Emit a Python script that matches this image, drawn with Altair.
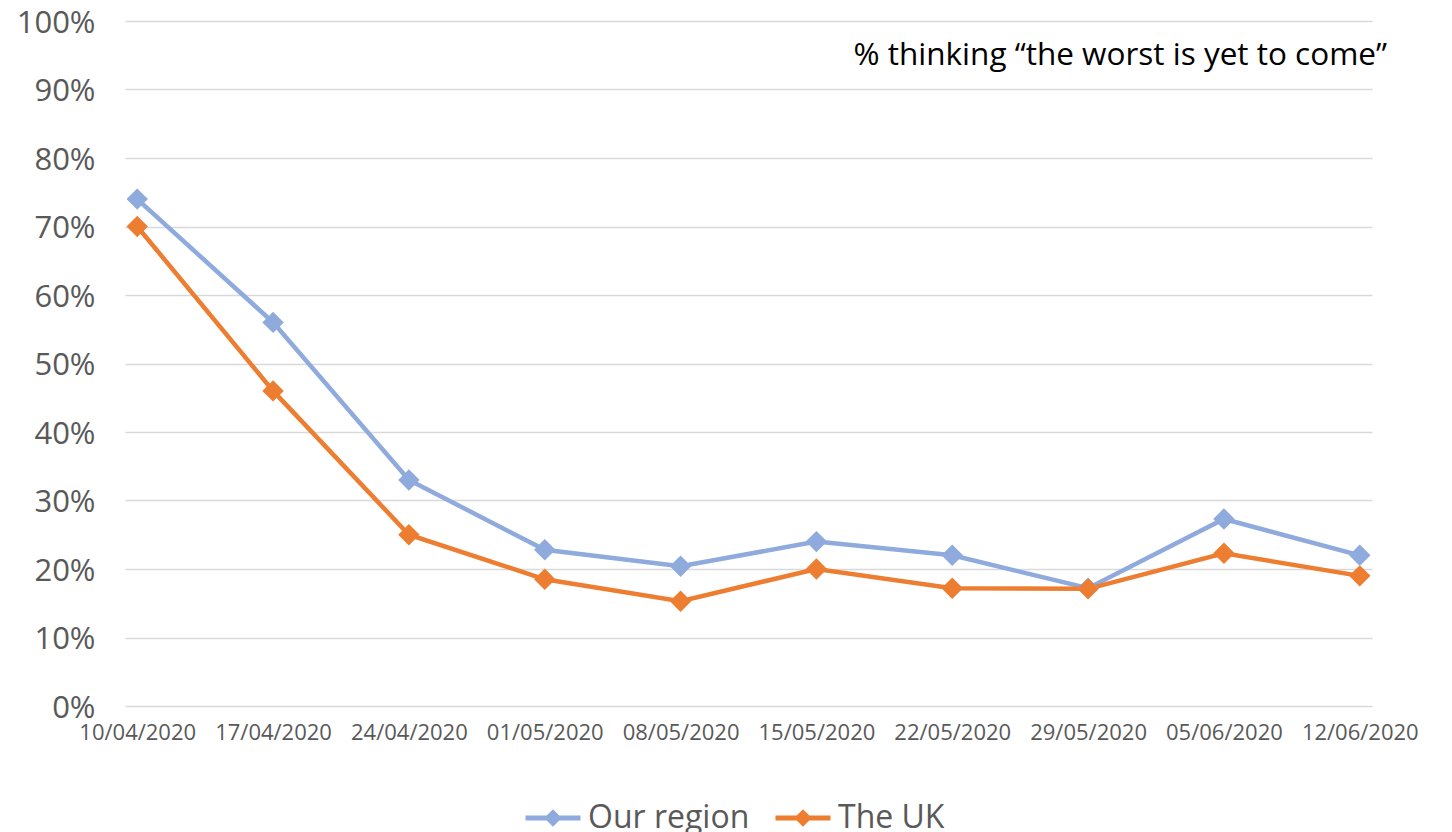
import altair as alt
import pandas as pd

dates = ["10/04/2020", "17/04/2020", "24/04/2020", "01/05/2020", "08/05/2020",
         "15/05/2020", "22/05/2020", "29/05/2020", "05/06/2020", "12/06/2020"]
our_region = [74.0, 56.0, 33.0, 22.8, 20.4, 24.0, 22.0, 17.2, 27.3, 22.0]
the_uk = [70.0, 46.0, 25.0, 18.5, 15.3, 20.0, 17.2, 17.1, 22.3, 19.0]
series_names = ["Our region", "The UK"]
series_colors = ["#8FAADC", "#ED7D31"]
note = "% thinking \u201cthe worst is yet to come\u201d"

rows = []
for name, vals in zip(series_names, [our_region, the_uk]):
    for d, v in zip(dates, vals):
        rows.append({"date": d, "series": name, "value": v / 100})
df = pd.DataFrame(rows)

W, H = 1247, 685
FONT = "Open Sans"
GREY = "#595959"

legend_path = "M-1,0L1,0M0,-0.19L0.19,0L0,0.19L-0.19,0Z"

x_enc = alt.X("date:N", sort=dates, title=None,
              scale=alt.Scale(type="point", padding=0.09),
              axis=alt.Axis(labelAngle=0, labelFontSize=22, labelColor=GREY, labelFont=FONT,
                            labelPadding=16, ticks=False, domain=False, grid=False))
y_enc = alt.Y("value:Q", title=None,
              scale=alt.Scale(domain=[0, 1], nice=False),
              axis=alt.Axis(format=".0%", values=[i / 10 for i in range(11)],
                            labelFontSize=31, labelColor=GREY, labelFont=FONT,
                            labelBaseline="alphabetic", labelOffset=11,
                            labelPadding=30, ticks=False, domain=False,
                            grid=True, gridColor="#D9D9D9", gridWidth=1.5))
color_enc = alt.Color("series:N", sort=series_names,
                      scale=alt.Scale(domain=series_names, range=series_colors),
                      legend=alt.Legend(title=None, orient="none", direction="horizontal",
                                        legendX=393, legendY=762, padding=5,
                                        symbolType=legend_path, symbolSize=3025,
                                        symbolStrokeWidth=5, symbolFillColor="transparent",
                                        labelFontSize=32, labelColor=GREY, labelFont=FONT,
                                        labelLimit=400, labelOffset=5, columnPadding=15))

lines = alt.Chart(df).mark_line(strokeWidth=4.5).encode(
    x=x_enc, y=y_enc, color=color_enc, detail="series:N")
points = alt.Chart(df).mark_point(shape="diamond", size=460, filled=True, opacity=1).encode(
    x=x_enc, y=y_enc, color=color_enc)

note_df = pd.DataFrame({"text": [note]})
note_mark = alt.Chart(note_df).mark_text(align="right", baseline="middle", fontSize=31.5,
                                         font=FONT, color="#000000").encode(
    text="text:N", x=alt.value(W + 15), y=alt.value(35))

chart = alt.layer(lines, points, note_mark).properties(
    width=W, height=H,
    autosize=alt.AutoSizeParams(type="none"),
    padding={"left": 117, "top": 13, "right": 60, "bottom": 126},
).configure_view(stroke=None)

chart.save("out.html", embed_options={"renderer": "svg", "actions": False})
